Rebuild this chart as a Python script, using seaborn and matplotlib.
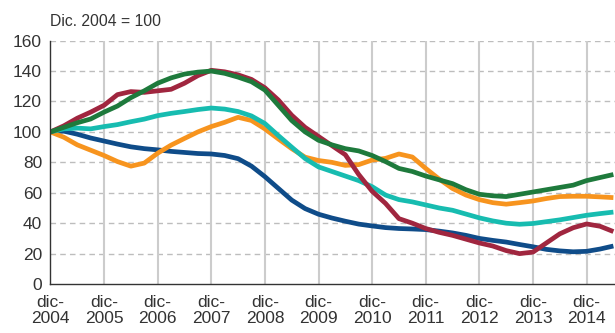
import numpy as np
import pandas as pd
import matplotlib
matplotlib.use("Agg")
import matplotlib.pyplot as plt
import seaborn as sns

# anni trascorsi da dic-2004 (trimestrali)
t = np.arange(0, 10.51, 0.25)

rosso = [100, 104, 109, 113, 117.5, 124.5, 126.5, 126, 127, 128, 132, 137, 140.5,
         139.5, 137.5, 134.5, 129, 121, 111, 103, 97, 91, 85, 72, 61, 53, 43, 40,
         36.5, 34, 32, 29.5, 27, 25, 22, 20, 21, 27, 33, 37, 39.5, 38, 34.5]
verde = [100, 103, 106, 108.5, 113, 117, 122.5, 127, 132, 135.5, 138, 139.3, 140,
         138.5, 136, 133, 127.5, 117.5, 107.5, 100, 94.5, 91.5, 89, 87.5, 84.5, 80.5,
         76, 74, 71, 68.5, 66, 62, 59, 58, 57.5, 59, 60.5, 62, 63.5, 65, 68, 70, 72]
turchese = [100, 102, 102.5, 102, 103.5, 104.8, 106.7, 108.4, 110.7, 112.2, 113.4,
            114.7, 115.7, 115, 113.4, 110.5, 105.5, 97.6, 90, 82.5, 77, 74, 71, 68,
            64, 58.5, 55.5, 54, 52, 50, 48.5, 46, 43.5, 41.5, 40, 39.3, 39.8, 41,
            42.2, 43.7, 45.2, 46.3, 47.3]
arancio = [100, 96.5, 91.5, 88, 84.5, 80.5, 77.5, 79.5, 86, 91.3, 95.7, 100, 103.5,
           106.3, 109.6, 107.5, 102, 95.4, 89, 83.4, 81.2, 80, 78, 78.5, 81.5, 82.6,
           85.5, 83.5, 76, 69, 62.8, 58.5, 55.5, 53.5, 52.5, 53.5, 54.6, 56.2, 57.5,
           57.7, 57.7, 57.3, 56.8]
blu = [100, 100.5, 98.5, 96, 94, 92, 90.2, 89, 88.2, 87.2, 86.5, 85.8, 85.5, 84.5,
       82.4, 77.5, 70.6, 62.9, 55.2, 49.6, 45.9, 43.4, 41.3, 39.4, 38.2, 37.1, 36.5,
       36.2, 35.8, 34.8, 33.6, 32, 30, 28.7, 27.6, 26, 24.5, 22.8, 21.8, 21.2, 21.5,
       23, 25]

anni = list(range(2004, 2015))
tick_labels = [f"dic-\n{a}" for a in anni]

serie = {"blu": blu, "arancio": arancio, "turchese": turchese, "rosso": rosso, "verde": verde}
colori = {"blu": "#0f4c89", "arancio": "#f7941e", "turchese": "#17bcb0",
          "rosso": "#a0263f", "verde": "#1e7a3c"}

df = pd.concat([pd.DataFrame({"t": t, "valore": v, "serie": k}) for k, v in serie.items()])

sns.set_style("white")
plt.rcParams["font.family"] = ["Liberation Sans", "DejaVu Sans"]

fig = plt.figure(figsize=(6.15, 3.33), dpi=100)
ax = fig.add_axes([0.082, 0.147, 0.918, 0.731])

# griglia
for y in range(20, 161, 20):
    ax.axhline(y, color="#bdbdbd", lw=1.0, ls=(0, (4, 3)), zorder=0)
for i in range(1, len(anni)):
    ax.axvline(i, color="#cccccc", lw=1.5, zorder=0)

sns.lineplot(data=df, x="t", y="valore", hue="serie", hue_order=list(serie.keys()),
             palette=colori, lw=3.4, legend=False, ax=ax)
for line in ax.get_lines()[-5:]:
    line.set_solid_capstyle("butt")

ax.set_xlim(0, 10.53)
ax.set_ylim(0, 160)
ax.set_xticks(range(len(anni)))
ax.set_xticklabels(tick_labels, linespacing=1.1)
ax.set_yticks(range(0, 161, 20))
ax.tick_params(axis="x", length=3, width=1, color="#333333", labelsize=12.5,
               labelcolor="#333333", pad=5)
ax.tick_params(axis="y", length=0, labelsize=12.5, labelcolor="#333333", pad=6)
ax.set_xlabel("")
ax.set_ylabel("")

for s in ["top", "right"]:
    ax.spines[s].set_visible(False)
for s in ["left", "bottom"]:
    ax.spines[s].set_color("#333333")
    ax.spines[s].set_linewidth(1.0)
    ax.spines[s].set_zorder(5)

fig.text(0.081, 0.935, "Dic. 2004 = 100", fontsize=11.3, color="#333333", va="center")

plt.savefig("out.png", dpi=100)
